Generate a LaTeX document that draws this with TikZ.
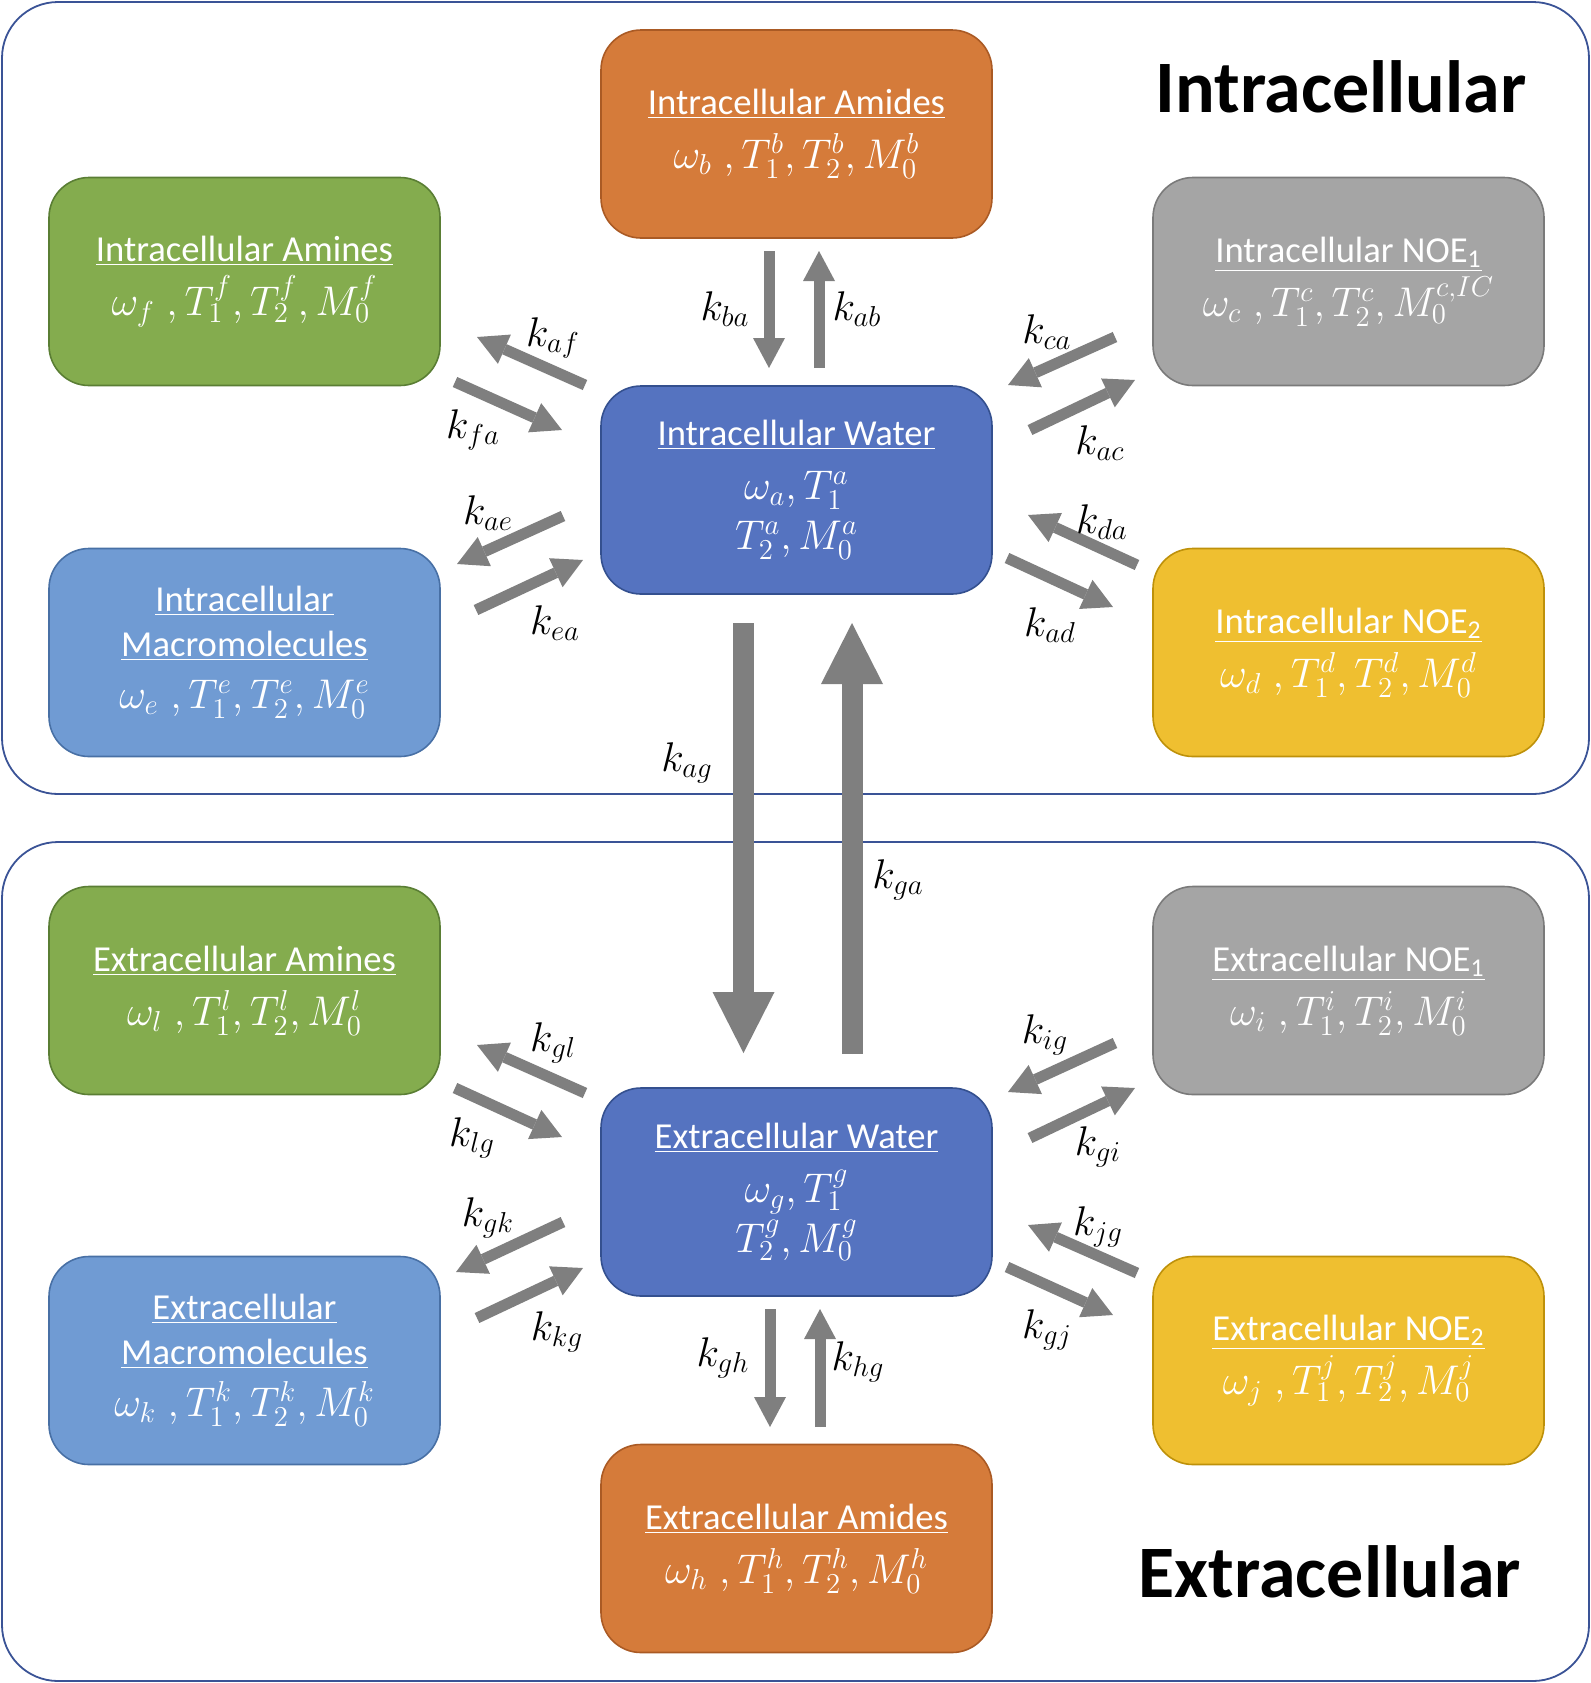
\documentclass[tikz,border=0pt]{standalone}
\usepackage[no-math]{fontspec}
\setmainfont{Carlito}
\usetikzlibrary{arrows.meta}
\definecolor{orF}{RGB}{213,123,58}\definecolor{orD}{RGB}{170,90,36}
\definecolor{grF}{RGB}{132,172,78}\definecolor{grD}{RGB}{90,126,52}
\definecolor{gyF}{RGB}{165,165,165}\definecolor{gyD}{RGB}{122,122,122}
\definecolor{wbF}{RGB}{85,115,192}\definecolor{wbD}{RGB}{52,80,143}
\definecolor{lbF}{RGB}{112,155,211}\definecolor{lbD}{RGB}{72,112,165}
\definecolor{ylF}{RGB}{239,191,48}\definecolor{ylD}{RGB}{190,145,10}
\definecolor{pnD}{RGB}{58,83,150}
\definecolor{arG}{RGB}{127,127,127}
\newcommand\ttl[1]{\underline{#1}}
\newcommand\mth[1]{{\fontsize{20pt}{25pt}\selectfont$#1$}}
\begin{document}
\begin{tikzpicture}[x=0.5pt,y=-0.5pt,
  panel/.style={draw=pnD,line width=0.9pt,rounded corners=28pt},
  cbox/.style n args={2}{fill=#1,draw=#2,rounded corners=20pt,minimum width=195.5pt,minimum height=104pt,line width=0.8pt,text=white,align=center,inner sep=0pt,font=\fontsize{18.3pt}{25pt}\selectfont},
  lbl/.style={font=\fontsize{21pt}{24pt}\selectfont,inner sep=0pt},
  big/.style={font=\fontsize{37pt}{40pt}\selectfont\bfseries,anchor=base,inner sep=0pt},
  sarr/.style={draw=arG,line width=5.5pt,-{Triangle[length=15pt,width=16pt,line width=0pt]},fill=arG},
  barr/.style={draw=arG,line width=10.5pt,-{Triangle[length=30.5pt,width=31pt,line width=0pt]},fill=arG}]
\useasboundingbox (0,0) rectangle (1591,1683);
% panels
\draw[panel] (2,2) rectangle (1589,794);
\draw[panel] (2,842) rectangle (1589,1681);
\node[big] (tin) at (1341,112) {Intracellular};
\node[big] (tex) at (1330,1597) {Extracellular};
% intracellular boxes
\node[cbox={orF}{orD}] (b) at (796.5,134) {\ttl{Intracellular Amides}\\[2pt]\mth{\omega_b\;, T_1^b, T_2^b, M_0^b}};
\node[cbox={grF}{grD}] (f) at (244.5,281.5) {\ttl{Intracellular Amines}\\[2pt]\mth{\omega_f\;, T_1^f, T_2^f, M_0^f}};
\node[cbox={gyF}{gyD}] (c) at (1348.5,281.5) {\ttl{Intracellular NOE\textsubscript{1}}\\[2pt]\mth{\omega_c\;, T_1^c, T_2^c, M_0^{c,IC}}};
\node[cbox={wbF}{wbD}] (a) at (796.5,490) {\ttl{Intracellular Water}\\[2pt]\mth{\omega_a, T_1^a}\\[0pt]\mth{T_2^a, M_0^a}};
\node[cbox={lbF}{lbD}] (e) at (244.5,652.5) {\ttl{Intracellular}\\[-2.5pt]\ttl{Macromolecules}\\[1pt]\mth{\omega_e\;, T_1^e, T_2^e, M_0^e}};
\node[cbox={ylF}{ylD}] (d) at (1348.5,652.5) {\ttl{Intracellular NOE\textsubscript{2}}\\[2pt]\mth{\omega_d\;, T_1^d, T_2^d, M_0^d}};
% extracellular boxes
\node[cbox={grF}{grD}] (l) at (244.5,990.5) {\ttl{Extracellular Amines}\\[2pt]\mth{\omega_l\;, T_1^l, T_2^l, M_0^l}};
\node[cbox={gyF}{gyD}] (i) at (1348.5,990.5) {\ttl{Extracellular NOE\textsubscript{1}}\\[2pt]\mth{\omega_i\;, T_1^i, T_2^i, M_0^i}};
\node[cbox={wbF}{wbD}] (g) at (796.5,1192) {\ttl{Extracellular Water}\\[2pt]\mth{\omega_g, T_1^g}\\[0pt]\mth{T_2^g, M_0^g}};
\node[cbox={lbF}{lbD}] (k) at (244.5,1360.5) {\ttl{Extracellular}\\[-2.5pt]\ttl{Macromolecules}\\[1pt]\mth{\omega_k\;, T_1^k, T_2^k, M_0^k}};
\node[cbox={ylF}{ylD}] (j) at (1348.5,1360.5) {\ttl{Extracellular NOE\textsubscript{2}}\\[2pt]\mth{\omega_j\;, T_1^j, T_2^j, M_0^j}};
\node[cbox={orF}{orD}] (h) at (796.5,1548.5) {\ttl{Extracellular Amides}\\[2pt]\mth{\omega_h\;, T_1^h, T_2^h, M_0^h}};
% arrow end coordinates
\coordinate (ba1) at (769,251); \coordinate (ba2) at (769,368);
\coordinate (ab1) at (819,368); \coordinate (ab2) at (819,251);
\coordinate (af1) at (585,385); \coordinate (af2) at (477,337);
\coordinate (fa1) at (455,382); \coordinate (fa2) at (562,430);
\coordinate (ca1) at (1115,337); \coordinate (ca2) at (1008,385);
\coordinate (ac1) at (1030,430); \coordinate (ac2) at (1135,380);
\coordinate (ae1) at (563,516); \coordinate (ae2) at (457,564);
\coordinate (ea1) at (476,610); \coordinate (ea2) at (583,560);
\coordinate (da1) at (1137,565); \coordinate (da2) at (1028,515);
\coordinate (ad1) at (1007,558); \coordinate (ad2) at (1113,607);
\coordinate (ag1) at (743.5,623); \coordinate (ag2) at (743.5,1053);
\coordinate (ga1) at (852,1054); \coordinate (ga2) at (852,623);
\coordinate (gl1) at (585,1093); \coordinate (gl2) at (477,1045);
\coordinate (lg1) at (455,1088); \coordinate (lg2) at (562,1137);
\coordinate (ig1) at (1115,1043); \coordinate (ig2) at (1008,1092);
\coordinate (gi1) at (1030,1138); \coordinate (gi2) at (1135,1088);
\coordinate (gk1) at (563,1222); \coordinate (gk2) at (456,1272);
\coordinate (kg1) at (477,1318); \coordinate (kg2) at (583,1268);
\coordinate (jg1) at (1137,1273); \coordinate (jg2) at (1028,1225);
\coordinate (gj1) at (1007,1267); \coordinate (gj2) at (1113,1315);
\coordinate (gh1) at (770,1309); \coordinate (gh2) at (770,1427);
\coordinate (hg1) at (820,1427); \coordinate (hg2) at (820,1309);
% arrows
\foreach \p in {ba,ab,af,fa,ca,ac,ae,ea,da,ad,gl,lg,ig,gi,gk,kg,jg,gj,gh,hg}
  \draw[sarr] (\p1) -- (\p2);
\draw[barr] (ag1) -- (ag2);
\draw[barr] (ga1) -- (ga2);
% labels
\node[lbl] (Lba) at (725,309) {$k_{ba}$};
\node[lbl] (Lab) at (857,309) {$k_{ab}$};
\node[lbl] (Laf) at (553,338) {$k_{af}$};
\node[lbl] (Lfa) at (473,430) {$k_{fa}$};
\node[lbl] (Lca) at (1047,332) {$k_{ca}$};
\node[lbl] (Lac) at (1100,443) {$k_{ac}$};
\node[lbl] (Lae) at (488,513) {$k_{ae}$};
\node[lbl] (Lea) at (555,623) {$k_{ea}$};
\node[lbl] (Lda) at (1102,522) {$k_{da}$};
\node[lbl] (Lad) at (1050,625) {$k_{ad}$};
\node[lbl] (Lag) at (687,763) {$k_{ag}$};
\node[lbl] (Lga) at (898,880) {$k_{ga}$};
\node[lbl] (Lgl) at (553,1043) {$k_{gl}$};
\node[lbl] (Llg) at (472,1138) {$k_{lg}$};
\node[lbl] (Lig) at (1045,1035) {$k_{ig}$};
\node[lbl] (Lgi) at (1098,1147) {$k_{gi}$};
\node[lbl] (Lgk) at (488,1218) {$k_{gk}$};
\node[lbl] (Lkg) at (557,1332) {$k_{kg}$};
\node[lbl] (Ljg) at (1098,1227) {$k_{jg}$};
\node[lbl] (Lgj) at (1047,1330) {$k_{gj}$};
\node[lbl] (Lgh) at (723,1358) {$k_{gh}$};
\node[lbl] (Lhg) at (858,1362) {$k_{hg}$};
\end{tikzpicture}
\end{document}
